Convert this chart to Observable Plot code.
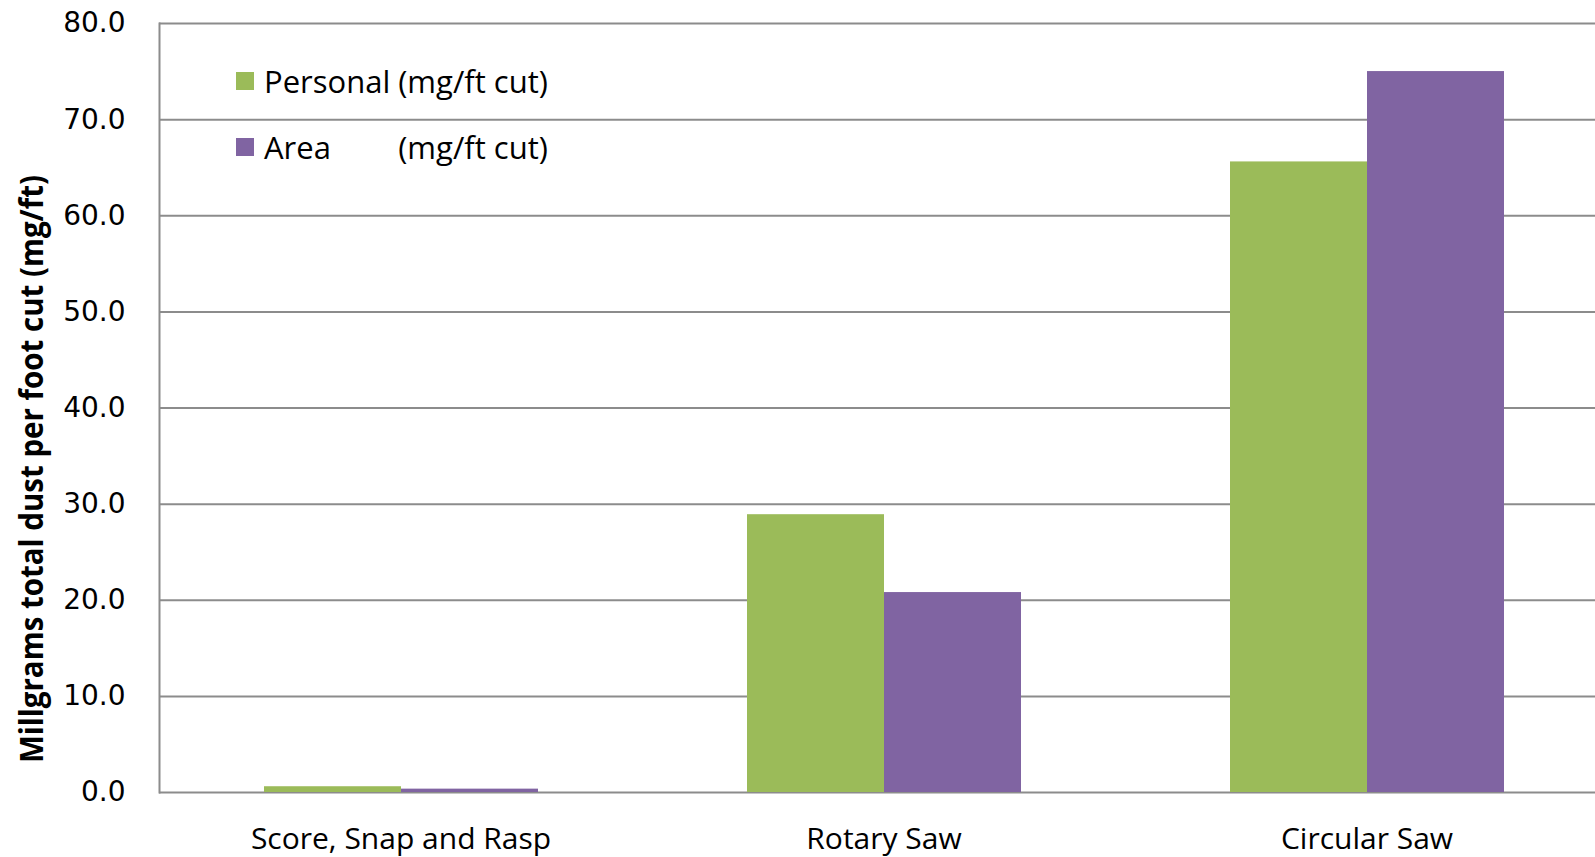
<!DOCTYPE html>
<html>
<head>
<meta charset="utf-8">
<script src="https://cdn.jsdelivr.net/npm/d3@7"></script>
<script src="https://cdn.jsdelivr.net/npm/@observablehq/plot@0.6"></script>
<style>
  html, body { margin: 0; padding: 0; background: #fff; overflow: hidden; }
  #chart { position: relative; width: 1595px; height: 857px; overflow: hidden; }
  #legend {
    position: absolute; left: 236px; top: 61px;
    display: grid; grid-template-columns: 18px auto auto;
    column-gap: 10px; row-gap: 26px; align-items: center;
    font-family: "Open Sans", sans-serif; font-size: 31px; line-height: 40px; color: #000;
  }
  #legend .sw { width: 18px; height: 18px; }
  #legend .unit { margin-left: -2px; }
</style>
</head>
<body>
<div id="chart"><div id="legend"></div></div>
<script>
// Total dust collected per foot of cut, by cutting method
const categories = ["Score, Snap and Rasp", "Rotary Saw", "Circular Saw"];
const seriesNames = ["Personal", "Area"];
const seriesUnit = "(mg/ft cut)";
const personal = [0.6, 28.9, 65.6];
const area = [0.35, 20.8, 75.0];
const colors = ["#9BBB59", "#8064A2"];
const yTicks = [0, 10, 20, 30, 40, 50, 60, 70, 80];
const yLabel = "Millgrams total dust per foot cut (mg/ft)";

const rows = categories.flatMap((c, i) => [
  {category: c, series: seriesNames[0], value: personal[i]},
  {category: c, series: seriesNames[1], value: area[i]}
]);

const grid = "#8c8c8c";

const chart = Plot.plot({
  width: 1608,
  height: 857,
  marginTop: 23,
  marginBottom: 65,
  marginLeft: 158,
  marginRight: 0,
  style: {fontFamily: "Open Sans", maxWidth: "none", background: "white", overflow: "hidden"},
  fx: {domain: categories, padding: 0, label: null},
  x: {domain: seriesNames, paddingInner: 0, paddingOuter: 0.756, axis: null},
  y: {domain: [0, 80], axis: null},
  color: {domain: seriesNames, range: colors},
  marks: [
    Plot.ruleY(yTicks, {stroke: grid, strokeWidth: 2}),
    Plot.barY(rows, {fx: "category", x: "series", y: "value", fill: "series"}),
    // vertical value axis line, left panel only
    Plot.frame({anchor: "left", facetAnchor: "left", stroke: grid, strokeWidth: 2}),
    Plot.axisY({
      ticks: yTicks, tickFormat: d3.format(".1f"), tickSize: 0, tickPadding: 34,
      fontSize: 28, fontFamily: "DejaVu Sans", fill: "#000", label: null
    }),
    Plot.text([yLabel], {
      facetAnchor: "left", frameAnchor: "left", textAnchor: "middle", lineAnchor: "middle",
      rotate: -90, dx: -127, dy: 61,
      fontSize: 33, fontWeight: "bold", fontFamily: "Open Sans", fill: "#000"
    }),
    Plot.axisFx({
      anchor: "bottom", tickSize: 0, tickPadding: 35, fontSize: 30,
      fontFamily: "Open Sans", fill: "#000", label: null
    })
  ]
});
document.getElementById("chart").prepend(chart);

// condensed look for the value-axis title
d3.select(chart).selectAll("text")
  .filter(function() { return this.textContent === yLabel; })
  .attr("textLength", 588)
  .attr("lengthAdjust", "spacingAndGlyphs");

// Legend: colour swatch, series name, unit
const legend = d3.select("#legend");
seriesNames.forEach((name, i) => {
  legend.append("div").attr("class", "sw").style("background", colors[i]);
  legend.append("div").text(name);
  legend.append("div").attr("class", "unit").text(seriesUnit);
});
</script>
</body>
</html>
